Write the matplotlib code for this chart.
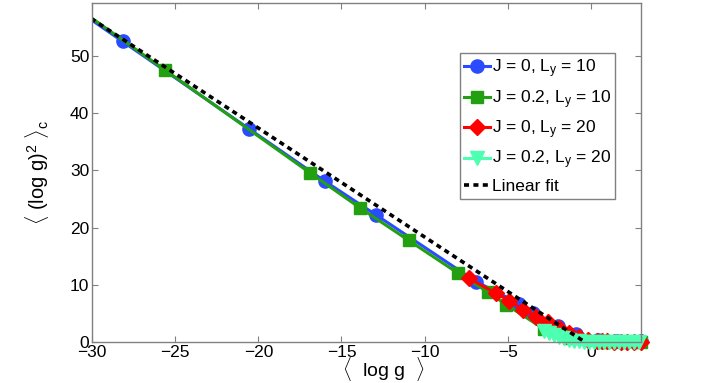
import numpy as np
import matplotlib
matplotlib.use('Agg')
from matplotlib import pyplot as plt

plt.rcParams['font.family'] = ['Liberation Sans', 'DejaVu Sans']
plt.rcParams['mathtext.fontset'] = 'custom'
plt.rcParams['mathtext.rm'] = 'Liberation Sans'
plt.rcParams['mathtext.it'] = 'Liberation Sans:italic'

# J = 0, Ly = 10
x_j0_l10 = [-33, -28.16, -20.58, -15.99, -12.95, -6.9, -4.3, -3.5, -2.0, -0.9, 0.4, 1.6, 3.0]
y_j0_l10 = [62.2, 52.5, 37.3, 28.1, 22.3, 10.6, 6.75, 5.1, 2.9, 1.4, 0.5, 0.3, 0.3]
# J = 0.2, Ly = 10
x_j02_l10 = [-33, -25.6, -16.9, -13.9, -10.96, -8.0, -6.2, -5.1, -2.8, -1.3, 0.8, 3.0]
y_j02_l10 = [62.7, 47.5, 29.6, 23.5, 17.8, 12.1, 8.8, 6.6, 2.3, 0.8, 0.1, 0.1]
# J = 0, Ly = 20
x_j0_l20 = [-7.33, -5.73, -4.93, -4.07, -3.3, -2.57, -1.9, -1.3, -0.7, -0.2, 0.35,
            0.7, 1.0, 1.4, 1.8, 2.2, 2.6, 3.0]
y_j0_l20 = [11.2, 8.6, 7.3, 5.7, 4.5, 3.6, 2.5, 1.7, 1.0, 0.5, 0.3,
            0.2, 0.2, 0.15, 0.15, 0.1, 0.1, 0.1]
# J = 0.2, Ly = 20
x_j02_l20 = [-2.8, -2.5, -2.2, -1.9, -1.6, -1.3, -1.0, -0.7, -0.4, -0.1, 0.2, 0.5,
             0.8, 1.1, 1.4, 1.7, 2.0, 2.3, 2.6, 2.9]
y_j02_l20 = [2.0, 1.6, 1.3, 1.0, 0.7, 0.45, 0.3, 0.2, 0.12, 0.08, 0.05, 0.05,
             0.05, 0.05, 0.05, 0.05, 0.05, 0.05, 0.05, 0.05]
# linear fit end points
fit_x = [-31, -0.35]
fit_y = [58.3, 0.05]

labels = ['J = 0, L$_\\mathrm{y}$ = 10', 'J = 0.2, L$_\\mathrm{y}$ = 10',
          'J = 0, L$_\\mathrm{y}$ = 20', 'J = 0.2, L$_\\mathrm{y}$ = 20']
colors = ['#2a4bff', '#22a012', '#ff0000', '#4dffb0']
markers = ['o', 's', 'D', 'v']
msizes = [9.5, 8, 8.5, 10]

fig = plt.figure(figsize=(7.08, 3.83), dpi=100)
ax = fig.add_axes([0.130, 0.106, 0.775, 0.886])

series = [(x_j0_l10, y_j0_l10), (x_j02_l10, y_j02_l10),
          (x_j0_l20, y_j0_l20), (x_j02_l20, y_j02_l20)]
handles = []
for (xs, ys), c, m, ms, lab in zip(series, colors, markers, msizes, labels):
    xs = np.array(xs)
    ys = np.array(ys)
    ax.plot(xs, ys, '-', color=c, lw=2.2)
    inside = xs >= -30
    ax.plot(xs[inside], ys[inside], m, color=c, ms=ms, mec=c, clip_on=False)
    h, = ax.plot([], [], '-', color=c, lw=2.2, marker=m, ms=ms, mec=c)
    handles.append(h)

fl, = ax.plot(fit_x, fit_y, color='black', lw=2.6, linestyle=(0, (1.4, 1.2)))
handles.append(fl)

ax.set_xlim(-30, 3)
ax.set_ylim(0, 59.2)
ax.set_xticks(np.arange(-30, 1, 5))
ax.set_yticks(np.arange(0, 51, 10))
ax.tick_params(direction='in', length=4, width=0.8, color='#808080',
               top=True, right=True, labelsize=12.5, pad=2)
for s in ax.spines.values():
    s.set_color('#808080')
    s.set_linewidth(1.0)

ax.set_xlabel(r'$\langle$  log g  $\rangle$', fontsize=14, labelpad=0)
ax.xaxis.set_label_coords(0.53, -0.036, transform=ax.transAxes)
ax.xaxis.label.set_va('top')
ax.set_ylabel(r'$\langle$ (log g)$^2$ $\rangle_\mathrm{c}$', fontsize=14.5)
ax.yaxis.set_label_coords(-0.075, 0.5)

leg = ax.legend(handles, labels + ['Linear fit'], loc='upper left',
                bbox_to_anchor=(0.67, 0.852), fontsize=12.5, handlelength=1.5,
                handletextpad=0.1, labelspacing=0.45, borderpad=0.25,
                borderaxespad=0, fancybox=False, framealpha=1)
leg.get_frame().set_edgecolor('#808080')
leg.get_frame().set_linewidth(1.0)

fig.savefig('out.png', dpi=100)
